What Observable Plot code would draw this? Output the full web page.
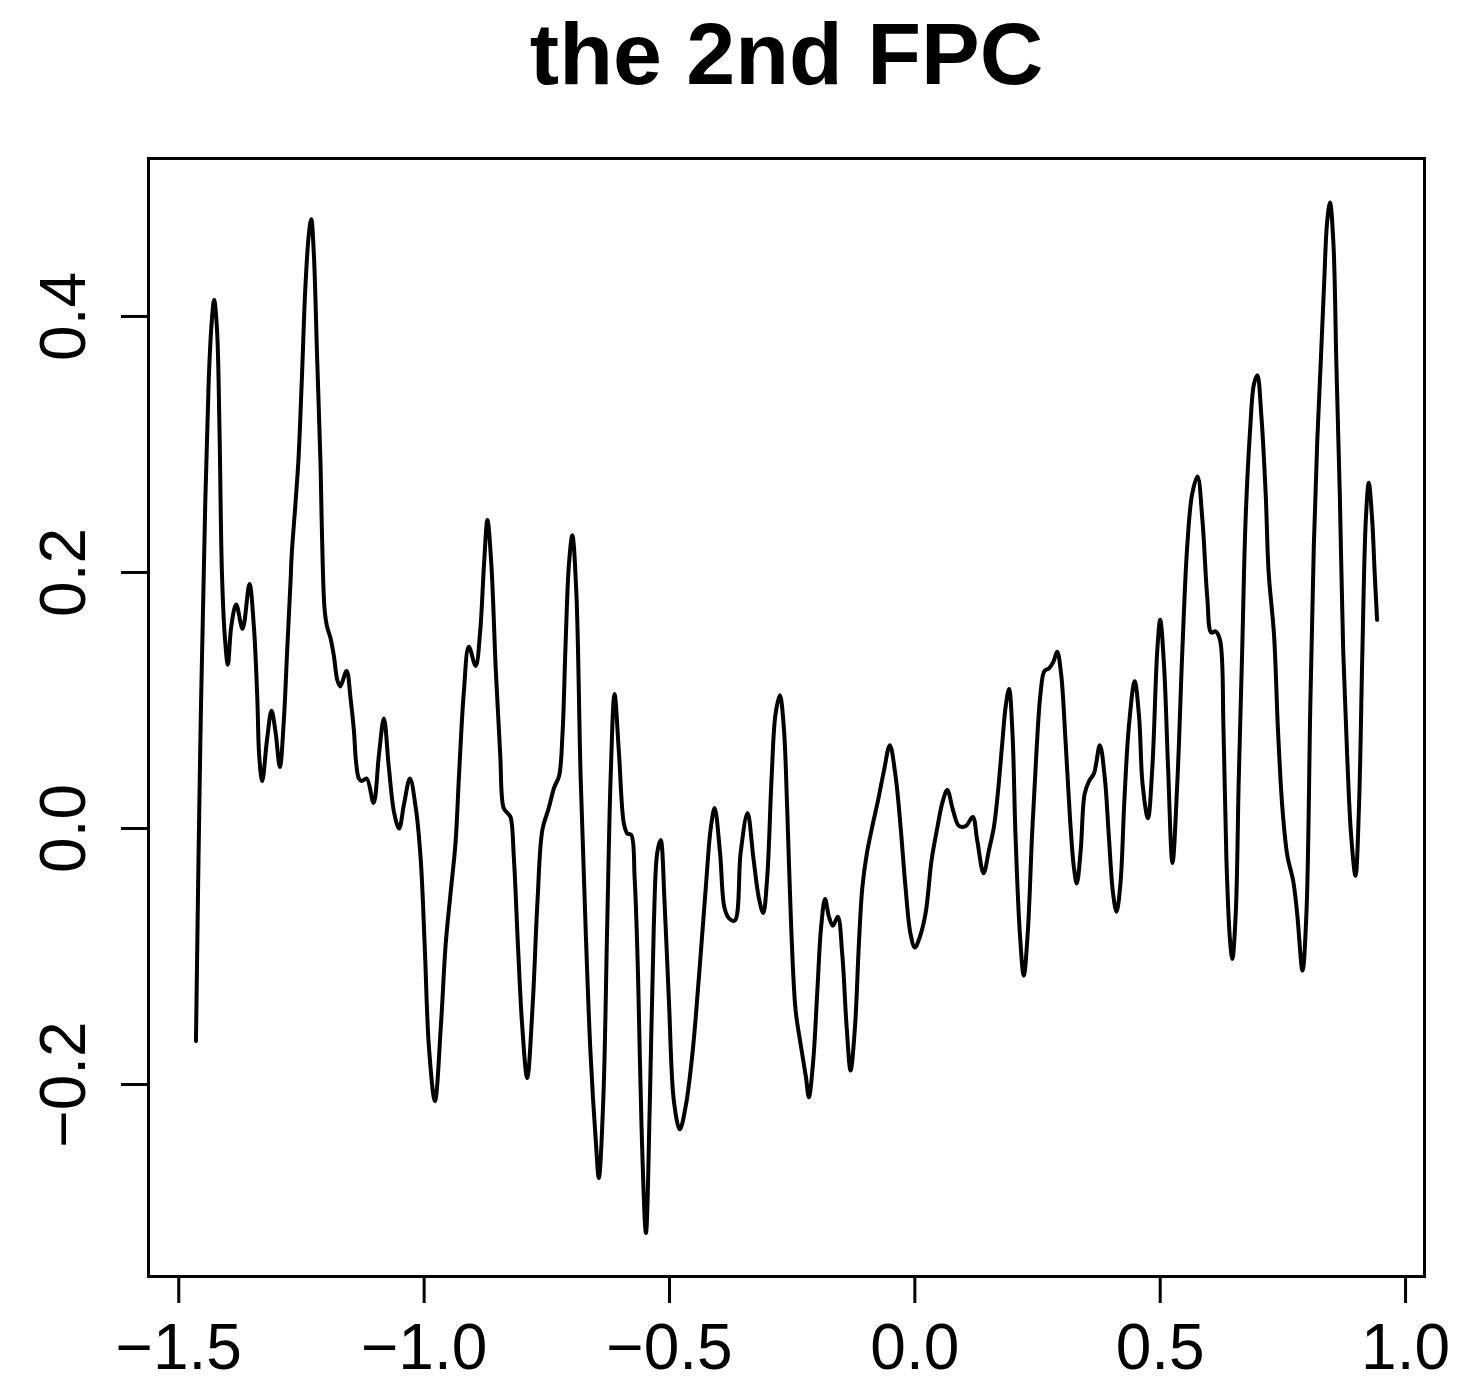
<!DOCTYPE html>
<html>
<head>
<meta charset="utf-8">
<script src="https://cdn.jsdelivr.net/npm/d3@7"></script>
<script src="https://cdn.jsdelivr.net/npm/@observablehq/plot@0.6"></script>
<style>
  html, body { margin: 0; padding: 0; background: #ffffff; }
  #chart svg { display: block; }
</style>
</head>
<body>
<div id="chart"></div>
<script>
const title = "the 2nd FPC";
const xTicks = [-1.5, -1.0, -0.5, 0.0, 0.5, 1.0];
const yTicks = [-0.2, 0.0, 0.2, 0.4];

const xs = [
-1.465,-1.456,-1.446,-1.439,-1.433,-1.428,-1.422,-1.417,-1.412,-1.406,-1.400,-1.393,-1.383,-1.370,-1.356,-1.347,-1.340,-1.336,-1.330,-1.320,
-1.311,-1.303,-1.294,-1.286,-1.279,-1.272,-1.270,-1.262,-1.256,-1.249,-1.242,-1.235,-1.230,-1.225,-1.218,-1.211,-1.208,-1.203,-1.198,-1.191,
-1.184,-1.177,-1.171,-1.158,-1.150,-1.143,-1.139,-1.133,-1.127,-1.117,-1.103,-1.092,-1.082,-1.072,-1.061,-1.051,-1.041,-1.029,-1.017,-1.007,
-0.999,-0.990,-0.978,-0.966,-0.956,-0.946,-0.936,-0.929,-0.919,-0.909,-0.895,-0.886,-0.878,-0.871,-0.863,-0.854,-0.845,-0.838,-0.830,-0.824,
-0.817,-0.809,-0.800,-0.790,-0.779,-0.769,-0.759,-0.746,-0.735,-0.725,-0.718,-0.712,-0.705,-0.698,-0.690,-0.681,-0.671,-0.661,-0.650,-0.644,
-0.635,-0.627,-0.620,-0.612,-0.603,-0.593,-0.586,-0.578,-0.571,-0.564,-0.557,-0.548,-0.540,-0.532,-0.525,-0.518,-0.510,-0.501,-0.491,-0.479,
-0.467,-0.453,-0.440,-0.426,-0.416,-0.408,-0.397,-0.388,-0.379,-0.367,-0.355,-0.341,-0.329,-0.318,-0.309,-0.301,-0.292,-0.284,-0.275,-0.267,
-0.260,-0.252,-0.243,-0.233,-0.222,-0.216,-0.207,-0.199,-0.191,-0.183,-0.175,-0.167,-0.157,-0.148,-0.139,-0.131,-0.122,-0.114,-0.107,-0.098,
-0.087,-0.075,-0.063,-0.051,-0.039,-0.029,-0.019,-0.009,0.000,0.010,0.022,0.034,0.046,0.056,0.066,0.078,0.090,0.104,0.118,0.127,
0.140,0.151,0.161,0.169,0.178,0.185,0.192,0.199,0.205,0.214,0.222,0.230,0.239,0.248,0.256,0.264,0.273,0.282,0.290,0.298,
0.307,0.316,0.324,0.330,0.338,0.346,0.355,0.365,0.377,0.387,0.395,0.404,0.411,0.419,0.427,0.436,0.448,0.457,0.464,0.475,
0.484,0.494,0.500,0.508,0.516,0.525,0.535,0.545,0.555,0.565,0.576,0.586,0.596,0.604,0.613,0.622,0.629,0.635,0.642,0.647,
0.654,0.660,0.667,0.674,0.683,0.691,0.698,0.706,0.715,0.721,0.732,0.740,0.749,0.759,0.771,0.779,0.790,0.798,0.806,0.813,
0.820,0.827,0.834,0.840,0.846,0.853,0.859,0.866,0.873,0.881,0.889,0.898,0.905,0.912,0.919,0.925,0.932,0.937,0.942
];
const ys = [
-0.166,0.069,0.255,0.350,0.395,0.413,0.389,0.311,0.199,0.149,0.128,0.158,0.175,0.156,0.191,0.158,0.102,0.056,0.037,0.070,
0.092,0.076,0.048,0.084,0.140,0.195,0.213,0.255,0.289,0.353,0.423,0.464,0.476,0.451,0.367,0.283,0.227,0.172,0.158,0.149,
0.135,0.116,0.111,0.123,0.102,0.076,0.053,0.039,0.037,0.039,0.020,0.058,0.086,0.048,0.012,0.000,0.019,0.039,0.016,-0.024,
-0.090,-0.172,-0.213,-0.155,-0.090,-0.050,-0.011,0.041,0.107,0.142,0.127,0.153,0.206,0.241,0.206,0.124,0.058,0.016,0.012,0.009,
-0.024,-0.090,-0.155,-0.195,-0.139,-0.057,-0.001,0.016,0.032,0.041,0.074,0.141,0.206,0.229,0.186,0.039,-0.077,-0.175,-0.245,-0.273,
-0.213,-0.077,0.039,0.105,0.059,0.004,-0.004,-0.005,-0.039,-0.116,-0.233,-0.316,-0.213,-0.077,-0.019,-0.009,-0.058,-0.136,-0.213,-0.235,
-0.217,-0.175,-0.116,-0.046,0.000,0.016,-0.019,-0.062,-0.070,-0.072,-0.019,0.012,-0.023,-0.054,-0.066,-0.039,0.039,0.089,0.104,0.079,
0.014,-0.077,-0.142,-0.168,-0.194,-0.210,-0.181,-0.129,-0.077,-0.055,-0.069,-0.076,-0.069,-0.098,-0.155,-0.189,-0.155,-0.090,-0.046,-0.020,
0.001,0.022,0.045,0.065,0.040,0.001,-0.046,-0.082,-0.093,-0.085,-0.066,-0.025,0.001,0.020,0.030,0.014,0.002,0.002,0.009,-0.009,
-0.035,-0.017,0.001,0.027,0.066,0.095,0.109,0.074,-0.004,-0.082,-0.115,-0.082,-0.004,0.061,0.105,0.123,0.125,0.130,0.138,0.121,
0.069,0.009,-0.030,-0.043,-0.017,0.027,0.037,0.043,0.065,0.040,-0.004,-0.051,-0.065,-0.043,0.022,0.079,0.115,0.087,0.035,0.008,
0.048,0.139,0.163,0.126,0.048,-0.027,0.037,0.138,0.220,0.261,0.275,0.241,0.180,0.153,0.154,0.147,0.077,-0.025,-0.086,-0.102,
-0.066,0.037,0.138,0.241,0.310,0.347,0.354,0.323,0.261,0.200,0.151,0.077,0.016,-0.021,-0.041,-0.066,-0.111,-0.066,0.098,0.220,
0.302,0.363,0.425,0.473,0.489,0.457,0.363,0.261,0.138,0.057,-0.005,-0.037,0.016,0.138,0.241,0.270,0.241,0.200,0.163
];

const data = xs.map((x, i) => ({x, y: ys[i]}));
const fmt = d => d.toFixed(1).replace("-", "\u2212");

const chart = Plot.plot({
  width: 1460,
  height: 1383,
  marginLeft: 148,
  marginRight: 36,
  marginTop: 158,
  marginBottom: 107,
  style: {background: "#ffffff", color: "#000000", fontFamily: "'Liberation Sans', Arial, Helvetica, sans-serif"},
  x: {domain: [-1.5617, 1.0386], axis: null},
  y: {domain: [-0.35, 0.5234], axis: null},
  marks: [
    Plot.frame({stroke: "#000000", strokeWidth: 3}),
    Plot.axisX(xTicks, {tickSize: 27, tickPadding: 20, fontSize: 64, tickFormat: fmt, strokeWidth: 3, label: null}),
    Plot.axisY(yTicks, {tickSize: 27, tickFormat: () => "", strokeWidth: 3, label: null}),
    Plot.text(yTicks, {y: d => d, text: fmt, frameAnchor: "left", dx: -64, rotate: -90,
      textAnchor: "middle", lineAnchor: "bottom", fontSize: 64, fill: "#000000"}),
    Plot.line(data, {x: "x", y: "y", stroke: "#000000", strokeWidth: 4, curve: "catmull-rom"}),
    Plot.text([title], {text: d => d, frameAnchor: "top", dy: -75, lineAnchor: "bottom",
      fontSize: 88, fontWeight: "bold", fill: "#000000"})
  ]
});
document.getElementById("chart").appendChild(chart);
</script>
</body>
</html>
